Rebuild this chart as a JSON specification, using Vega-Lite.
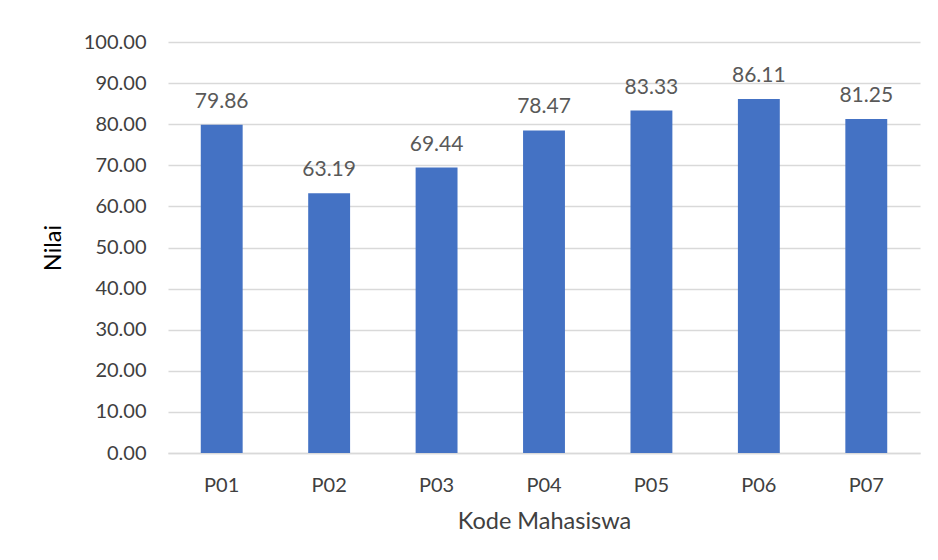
{
  "$schema": "https://vega.github.io/schema/vega-lite/v6.json",
  "autosize": "none",
  "width": 752,
  "height": 411,
  "padding": {"left": 168, "top": 42, "right": 18, "bottom": 107},
  "background": "white",
  "config": {"view": {"stroke": null}, "font": "Lato"},
  "data": {"values": [
    {"kode": "P01", "nilai": 79.86},
    {"kode": "P02", "nilai": 63.19},
    {"kode": "P03", "nilai": 69.44},
    {"kode": "P04", "nilai": 78.47},
    {"kode": "P05", "nilai": 83.33},
    {"kode": "P06", "nilai": 86.11},
    {"kode": "P07", "nilai": 81.25}
  ]},
  "encoding": {
    "x": {"field": "kode", "type": "nominal", "sort": null,
      "scale": {"paddingInner": 0.61, "paddingOuter": 0.305},
      "axis": {"title": "Kode Mahasiswa", "labelAngle": 0, "labelFontSize": 20, "labelColor": "#404040", "labelPadding": 22,
        "ticks": false, "domainColor": "#d9d9d9", "domainWidth": 1.5, "titleFontSize": 23.5, "titleFontWeight": "normal", "titleColor": "#404040", "titlePadding": 14}},
    "y": {"field": "nilai", "type": "quantitative",
      "scale": {"domain": [0, 100]},
      "axis": {"title": "Nilai", "values": [0,10,20,30,40,50,60,70,80,90,100], "format": ".2f", "labelFontSize": 20, "labelColor": "#404040", "labelPadding": 22,
        "ticks": false, "domain": false, "gridColor": "#d9d9d9", "gridWidth": 1.5, "titleFontSize": 23.5, "titleFontWeight": "normal", "titleColor": "#000000", "titlePadding": 18}}
  },
  "layer": [
    {"mark": {"type": "bar", "color": "#4472C4"}},
    {"mark": {"type": "text", "baseline": "alphabetic", "dy": -17, "fontSize": 21, "color": "#595959"},
     "encoding": {"text": {"field": "nilai", "type": "quantitative", "format": ".2f"}}}
  ]
}
